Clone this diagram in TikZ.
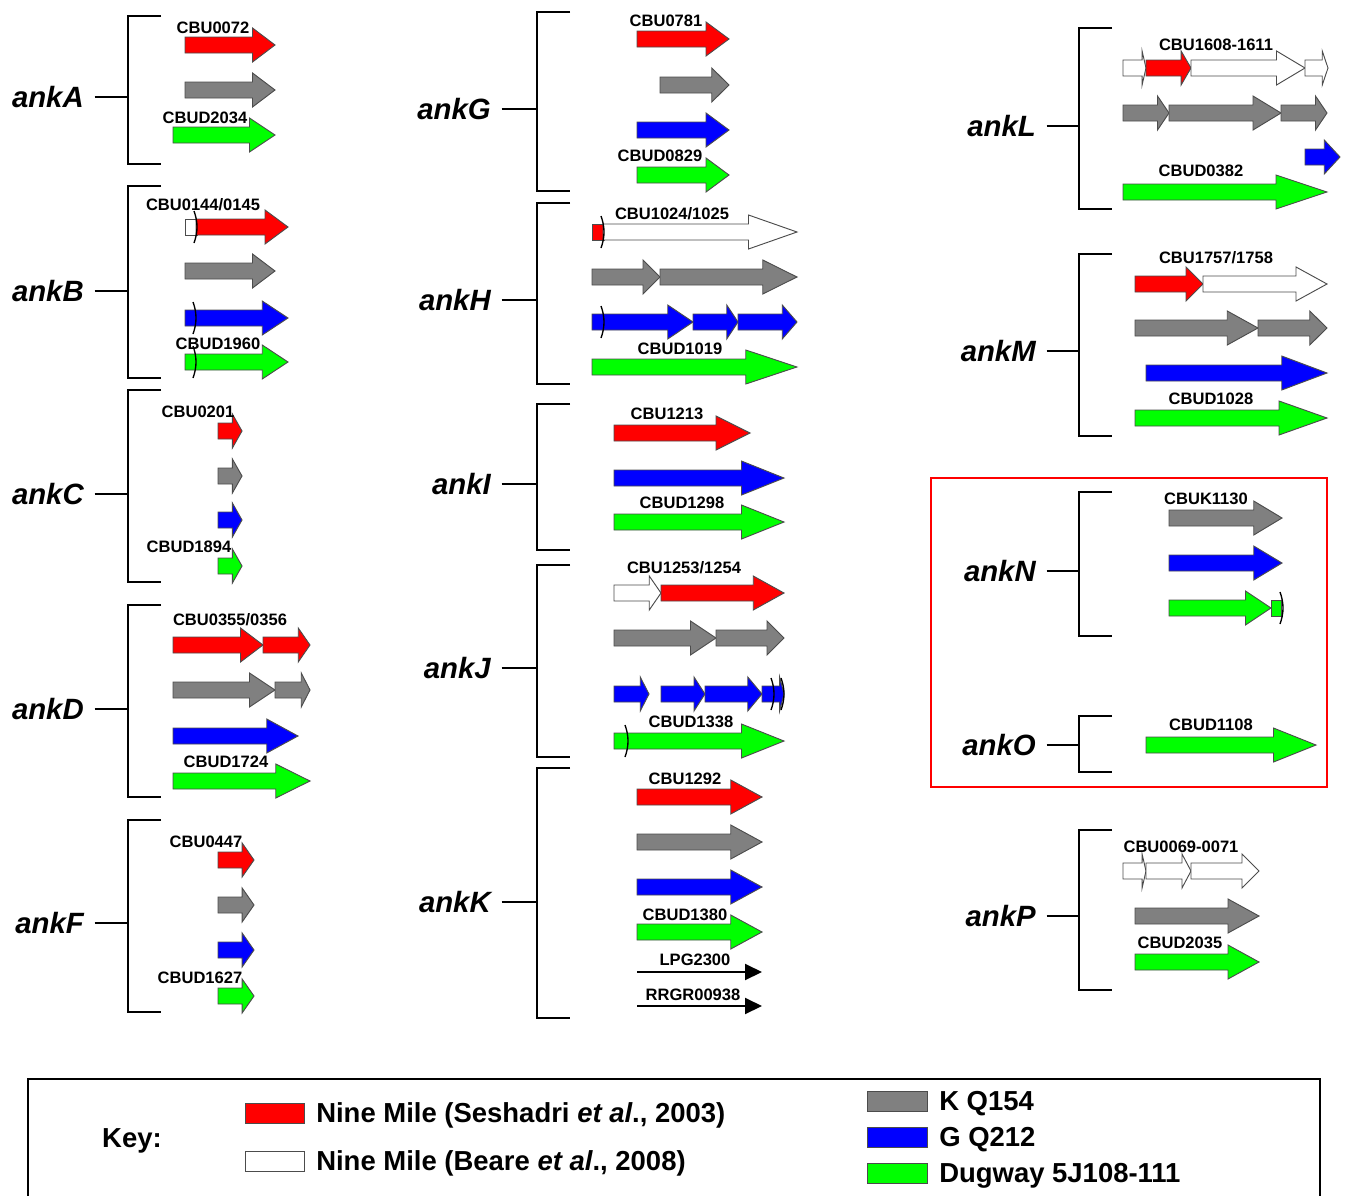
\documentclass[tikz,border=0pt]{standalone}
\usepackage{fontspec}
\setmainfont{Liberation Sans}
\usetikzlibrary{arrows.meta}

\definecolor{nmred}{RGB}{255,0,0}
\definecolor{kgrey}{RGB}{128,128,128}
\definecolor{gblue}{RGB}{0,0,255}
\definecolor{dgreen}{RGB}{0,255,0}

% gene arrow: [head fraction] x1 x2 y colour
\newcommand{\gene}[5][0.25]{%
  \pgfmathsetmacro{\hb}{#3-#1*(#3-#2)}%
  \filldraw[genebox, fill=#5] (#2,#4-8) -- (\hb,#4-8) -- (\hb,#4-17) -- (#3,#4)
    -- (\hb,#4+17) -- (\hb,#4+8) -- (#2,#4+8) -- cycle;}
\newcommand{\genebit}[4]{\filldraw[genebox, fill=#4] (#1,#3-8) rectangle (#2,#3+8);}
\newcommand{\fshift}[2]{\draw[fsline] (#1,#2-16) .. controls (#1+4,#2-5) and (#1+4,#2+5) .. (#1,#2+16);}
\newcommand{\bracket}[3]{\draw[brk] (#1+33,#2) -- (#1,#2) -- (#1,#3) -- (#1+33,#3);}
\newcommand{\ortho}[3]{\draw[line width=1.5pt, -{Triangle[length=12.75pt,width=12pt]}] (#1,#3) -- (#2,#3);}

\begin{document}
\begin{tikzpicture}[x=0.75pt,y=-0.75pt,
  genebox/.style={draw=black!70, line width=0.7pt},
  fsline/.style={draw=black, line width=1pt},
  brk/.style={draw=black, line width=1.5pt},
  fam/.style={font=\fontsize{22}{26}\selectfont\bfseries\itshape, anchor=east, inner sep=0pt},
  tag/.style={font=\fontsize{12.4}{14}\selectfont\bfseries, inner sep=0pt, yshift=-0.75pt},
  keytext/.style={font=\fontsize{20.6}{24}\selectfont\bfseries, anchor=west, inner sep=0pt, yshift=-1.8pt},
  swatch/.style={draw=black!70, line width=0.7pt}]
\useasboundingbox (0,0) rectangle (1347,1196);

% ---- column 1
\node[fam] (ankA) at (84,97) {ankA};
\bracket{128}{16}{164}
\draw[brk] ([xshift=8pt]ankA.east) -- (128,97);
\gene{185}{275}{45}{nmred}
\gene{185}{275}{90}{kgrey}
\gene{173}{275}{135}{dgreen}
\node[tag] (cbu0072) at (213,27) {CBU0072};
\node[tag] (cbud2034) at (205,117) {CBUD2034};

\node[fam] (ankB) at (84,291) {ankB};
\bracket{128}{186}{378}
\draw[brk] ([xshift=8pt]ankB.east) -- (128,291);
\genebit{185}{197}{227}{white}
\gene{196}{288}{227}{nmred}
\fshift{194}{227}
\gene{185}{275}{271}{kgrey}
\gene{185}{288}{318}{gblue}
\fshift{193}{318}
\gene{185}{288}{362}{dgreen}
\fshift{193}{362}
\node[tag] (cbu0144) at (203,204) {CBU0144/0145};
\node[tag] (cbud1960) at (218,343) {CBUD1960};

\node[fam] (ankC) at (84,494) {ankC};
\bracket{128}{390}{582}
\draw[brk] ([xshift=8pt]ankC.east) -- (128,494);
\gene[0.4]{218}{242}{431}{nmred}
\gene[0.4]{218}{242}{476}{kgrey}
\gene[0.4]{218}{242}{520}{gblue}
\gene[0.4]{218}{242}{566}{dgreen}
\node[tag] (cbu0201) at (198,411) {CBU0201};
\node[tag] (cbud1894) at (189,546) {CBUD1894};

\node[fam] (ankD) at (84,709) {ankD};
\bracket{128}{605}{797}
\draw[brk] ([xshift=8pt]ankD.east) -- (128,709);
\gene{173}{263}{645}{nmred}
\gene{263}{310}{645}{nmred}
\gene{173}{275}{690}{kgrey}
\gene{275}{310}{690}{kgrey}
\gene{173}{298}{736}{gblue}
\gene{173}{310}{781}{dgreen}
\node[tag] (cbu0355) at (230,619) {CBU0355/0356};
\node[tag] (cbud1724) at (226,761) {CBUD1724};

\node[fam] (ankF) at (84,923) {ankF};
\bracket{128}{820}{1012}
\draw[brk] ([xshift=8pt]ankF.east) -- (128,923);
\gene[0.33]{218}{254}{860}{nmred}
\gene[0.33]{218}{254}{905}{kgrey}
\gene[0.33]{218}{254}{950}{gblue}
\gene[0.33]{218}{254}{996}{dgreen}
\node[tag] (cbu0447) at (206,841) {CBU0447};
\node[tag] (cbud1627) at (200,977) {CBUD1627};

% ---- column 2
\node[fam] (ankG) at (491,109) {ankG};
\bracket{537}{12}{191}
\draw[brk] ([xshift=8pt]ankG.east) -- (537,109);
\gene{637}{729}{39}{nmred}
\gene{660}{729}{85}{kgrey}
\gene{637}{729}{130}{gblue}
\gene{637}{729}{175}{dgreen}
\node[tag] (cbu0781) at (666,20) {CBU0781};
\node[tag] (cbud0829) at (660,155) {CBUD0829};

\node[fam] (ankH) at (491,300) {ankH};
\bracket{537}{203}{384}
\draw[brk] ([xshift=8pt]ankH.east) -- (537,300);
\genebit{592}{604}{232}{nmred}
\gene{603}{797}{232}{white}
\fshift{601}{232}
\gene{592}{660}{277}{kgrey}
\gene{660}{797}{277}{kgrey}
\gene{592}{693}{322}{gblue}
\gene{693}{738}{322}{gblue}
\gene{738}{797}{322}{gblue}
\fshift{601}{322}
\gene{592}{797}{367}{dgreen}
\node[tag] (cbu1024) at (672,213) {CBU1024/1025};
\node[tag] (cbud1019) at (680,348) {CBUD1019};

\node[fam] (ankI) at (491,484) {ankI};
\bracket{537}{404}{550}
\draw[brk] ([xshift=8pt]ankI.east) -- (537,484);
\gene{614}{750}{433}{nmred}
\gene{614}{784}{478}{gblue}
\gene{614}{784}{522}{dgreen}
\node[tag] (cbu1213) at (667,413) {CBU1213};
\node[tag] (cbud1298) at (682,502) {CBUD1298};

\node[fam] (ankJ) at (491,668) {ankJ};
\bracket{537}{565}{757}
\draw[brk] ([xshift=8pt]ankJ.east) -- (537,668);
\gene{614}{661}{593}{white}
\gene{661}{784}{593}{nmred}
\gene{614}{716}{638}{kgrey}
\gene{716}{784}{638}{kgrey}
\gene{614}{649}{694}{gblue}
\gene{661}{705}{694}{gblue}
\gene{705}{762}{694}{gblue}
\gene[0.2]{762}{784}{694}{gblue}
\fshift{771}{694}
\fshift{781}{694}
\gene{614}{784}{741}{dgreen}
\fshift{625}{741}
\node[tag] (cbu1253) at (684,567) {CBU1253/1254};
\node[tag] (cbud1338) at (691,721) {CBUD1338};

\node[fam] (ankK) at (491,902) {ankK};
\bracket{537}{768}{1018}
\draw[brk] ([xshift=8pt]ankK.east) -- (537,902);
\gene{637}{762}{797}{nmred}
\gene{637}{762}{842}{kgrey}
\gene{637}{762}{887}{gblue}
\gene{637}{762}{932}{dgreen}
\ortho{637}{762}{972}
\ortho{637}{762}{1006}
\node[tag] (cbu1292) at (685,778) {CBU1292};
\node[tag] (cbud1380) at (685,914) {CBUD1380};
\node[tag] (lpg2300) at (695,959) {LPG2300};
\node[tag] (rrgr00938) at (693,994) {RRGR00938};

% ---- column 3
\node[fam] (ankL) at (1036,126) {ankL};
\bracket{1079}{28}{209}
\draw[brk] ([xshift=8pt]ankL.east) -- (1079,126);
\gene[0.17]{1123}{1146}{68}{white}
\gene[0.22]{1146}{1191}{68}{nmred}
\gene{1191}{1305}{68}{white}
\gene{1305}{1328}{68}{white}
\gene{1123}{1169}{113}{kgrey}
\gene{1169}{1281}{113}{kgrey}
\gene{1281}{1327}{113}{kgrey}
\gene[0.45]{1305}{1340}{157}{gblue}
\gene{1123}{1327}{192}{dgreen}
\node[tag] (cbu1608) at (1216,44) {CBU1608-1611};
\node[tag] (cbud0382) at (1201,170) {CBUD0382};

\node[fam] (ankM) at (1036,351) {ankM};
\bracket{1079}{254}{436}
\draw[brk] ([xshift=8pt]ankM.east) -- (1079,351);
\gene{1135}{1203}{284}{nmred}
\gene{1203}{1327}{284}{white}
\gene{1135}{1258}{328}{kgrey}
\gene{1258}{1327}{328}{kgrey}
\gene{1146}{1327}{373}{gblue}
\gene{1135}{1327}{418}{dgreen}
\node[tag] (cbu1757) at (1216,257) {CBU1757/1758};
\node[tag] (cbud1028) at (1211,398) {CBUD1028};

\draw[draw=nmred, line width=1.8pt] (931,478) rectangle (1327,787);

\node[fam] (ankN) at (1036,571) {ankN};
\bracket{1079}{492}{636}
\draw[brk] ([xshift=8pt]ankN.east) -- (1079,571);
\gene{1169}{1282}{518}{kgrey}
\gene{1169}{1282}{563}{gblue}
\gene{1169}{1271}{608}{dgreen}
\genebit{1271}{1281}{608}{dgreen}
\fshift{1280}{608}
\node[tag] (cbuk1130) at (1206,498) {CBUK1130};

\node[fam] (ankO) at (1036,745) {ankO};
\bracket{1079}{716}{772}
\draw[brk] ([xshift=8pt]ankO.east) -- (1079,745);
\gene{1146}{1316}{745}{dgreen}
\node[tag] (cbud1108) at (1211,724) {CBUD1108};

\node[fam] (ankP) at (1036,916) {ankP};
\bracket{1079}{830}{990}
\draw[brk] ([xshift=8pt]ankP.east) -- (1079,916);
\gene[0.17]{1123}{1146}{871}{white}
\gene[0.2]{1146}{1191}{871}{white}
\gene{1191}{1259}{871}{white}
\gene{1135}{1259}{916}{kgrey}
\gene{1135}{1259}{962}{dgreen}
\node[tag] (cbu0069) at (1181,846) {CBU0069-0071};
\node[tag] (cbud2035) at (1180,942) {CBUD2035};

% ---- key
\draw[line width=2.2pt] (28,1197) -- (28,1079) -- (1320,1079) -- (1320,1197);
\node[keytext, anchor=center] (key) at (132,1138) {Key:};
\filldraw[swatch, fill=nmred] (245,1103) rectangle (304,1123);
\node[keytext] (keyseshadri) at (316,1113) {Nine Mile (Seshadri \textit{et al}., 2003)};
\filldraw[swatch, fill=white] (245,1151) rectangle (304,1171);
\node[keytext] (keybeare) at (316,1161) {Nine Mile (Beare \textit{et al}., 2008)};
\filldraw[swatch, fill=kgrey] (867,1091) rectangle (927,1111);
\node[keytext] (keyk) at (939,1101) {K Q154};
\filldraw[swatch, fill=gblue] (867,1127) rectangle (927,1147);
\node[keytext] (keyg) at (939,1137) {G Q212};
\filldraw[swatch, fill=dgreen] (867,1163) rectangle (927,1183);
\node[keytext] (keyd) at (939,1173) {Dugway 5J108-111};
\end{tikzpicture}
\end{document}
